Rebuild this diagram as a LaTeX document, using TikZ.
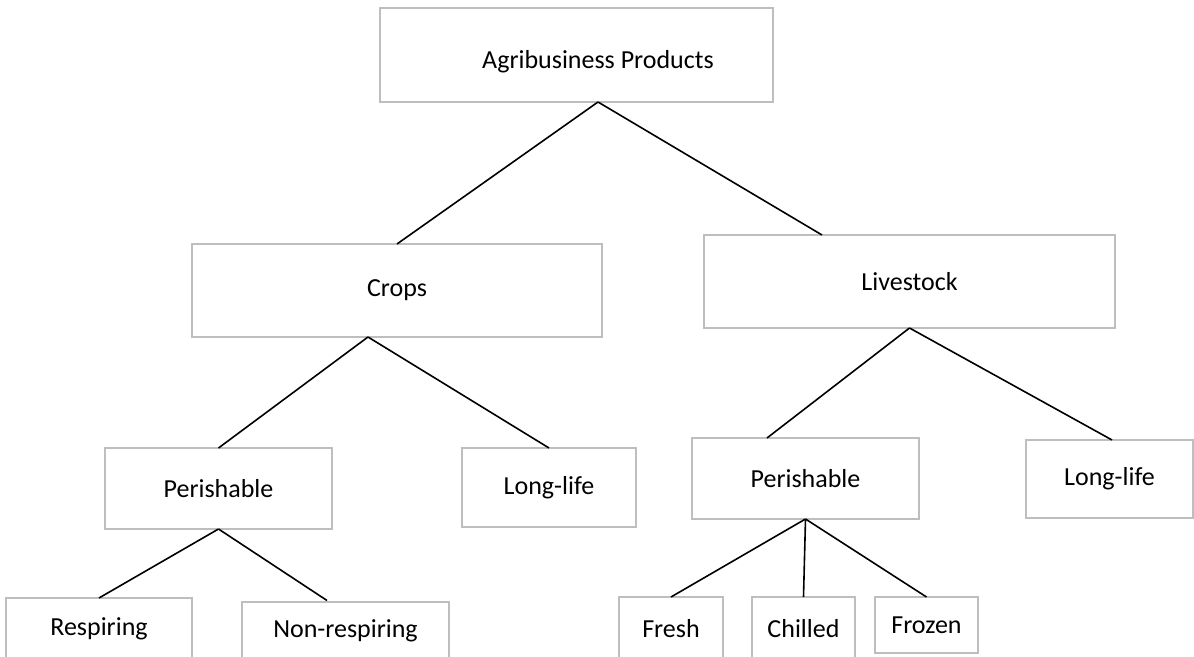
\documentclass[tikz,border=0pt]{standalone}
\usepackage{fontspec}
\setmainfont{Carlito}
\usetikzlibrary{calc}
\definecolor{boxgrey}{RGB}{190,190,190}
\tikzset{
  box/.style={draw=boxgrey, line width=1pt, fill=white, inner sep=0pt, outer sep=0pt,
    font=\fontsize{13pt}{15pt}\selectfont, text=black},
  link/.style={draw=black, line width=0.8pt}
}
\begin{document}
\begin{tikzpicture}[x=0.5pt,y=-0.5pt]
\useasboundingbox (0,0) rectangle (1194,657);
\clip (0,0) rectangle (1194,657);
% nodes (centres in pixel coordinates)
\node[box, minimum width=196.5pt, minimum height=47pt] (top) at (576.5,55) {\hspace*{21.5pt}\raisebox{-3.5pt}[\height][\depth]{Agribusiness Products}};
\node[box, minimum width=205pt, minimum height=46.5pt] (crops) at (397,290.5) {Crops};
\node[box, minimum width=205.5pt, minimum height=46.5pt] (live) at (909.5,281.5) {Livestock};
\node[box, minimum width=113.5pt, minimum height=40.5pt] (cper) at (218.5,488.5) {Perishable};
\node[box, minimum width=87pt, minimum height=39.5pt] (clong) at (549,487.5) {Long-life};
\node[box, minimum width=113.5pt, minimum height=40.5pt] (lper) at (805.5,478.5) {Perishable};
\node[box, minimum width=83.5pt, minimum height=39pt] (llong) at (1109.5,479) {Long-life};
\node[box, minimum width=93pt, minimum height=31pt] (resp) at (99,629) {Respiring};
\node[box, minimum width=103.5pt, minimum height=29pt] (nonresp) at (345.5,631) {Non-respiring};
\node[box, minimum width=52pt, minimum height=31.5pt] (fresh) at (671,628.5) {Fresh};
\node[box, minimum width=51.5pt, minimum height=31.5pt] (chill) at (803.5,628.5) {Chilled};
\node[box, minimum width=51.5pt, minimum height=28pt] (froz) at (926.5,625) {Frozen};
% connector end points
\coordinate (topA) at ($(top.south)+(21.5,0)$);
\coordinate (cropsA) at ($(crops.south)+(-29,0)$);
\coordinate (liveT) at ($(live.north)+(-87.5,0)$);
\coordinate (nonT) at ($(nonresp.north)+(-18.5,-1.5)$);
\coordinate (lperT) at ($(lper.north)+(-38.5,0)$);
\coordinate (llongT) at ($(llong.north)+(2.5,0)$);
% connectors
\draw[link] (topA) -- (crops.north);
\draw[link] (topA) -- (liveT);
\draw[link] (cropsA) -- (cper.north);
\draw[link] (cropsA) -- (clong.north);
\draw[link] (cper.south) -- (resp.north);
\draw[link] (cper.south) -- (nonT);
\draw[link] (live.south) -- (lperT);
\draw[link] (live.south) -- (llongT);
\draw[link] (lper.south) -- (fresh.north);
\draw[link] (lper.south) -- (chill.north);
\draw[link] (lper.south) -- (froz.north);
\end{tikzpicture}
\end{document}
